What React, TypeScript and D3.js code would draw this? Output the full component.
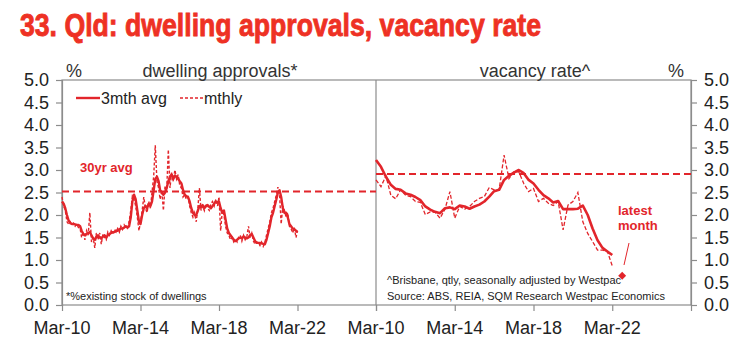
import { useEffect, useRef } from 'react';
import * as d3 from 'd3';

// dwelling approvals, % of existing stock, monthly from Mar-10 to Mar-22
const approvalsMthly = [
  2.40, 2.20, 2.10, 1.85, 1.80, 1.85, 1.78, 1.82, 1.75, 1.80,
  1.72, 1.70, 1.50, 1.62, 1.45, 1.65, 1.55, 2.05, 1.40, 1.50, 1.27, 1.60,
  1.45, 1.60, 1.35, 1.58, 1.50, 1.45, 1.62, 1.55, 1.65, 1.58, 1.68, 1.62,
  1.70, 1.62, 1.75, 1.68, 1.78, 1.72, 1.70, 1.85, 2.10, 2.42, 2.35, 2.20,
  1.95, 1.65, 1.85, 2.10, 2.40, 2.15, 2.05, 2.30, 2.15, 2.50, 2.85, 3.55,
  2.75, 2.60, 2.35, 2.55, 2.10, 2.65, 2.55, 3.45, 2.60, 2.95, 2.75, 3.00,
  2.80, 2.90, 2.65, 2.60, 2.40, 2.45, 2.35, 2.40, 2.20, 2.05, 1.95, 2.05,
  1.85, 2.15, 2.60, 2.10, 2.20, 2.10, 2.25, 2.15, 2.10, 2.25, 2.30, 2.20,
  2.35, 2.20, 2.40, 1.65, 2.10, 2.00, 1.75, 1.60, 1.55, 1.45, 1.50, 1.40,
  1.45, 1.40, 1.50, 1.55, 1.42, 1.55, 1.45, 1.52, 1.75, 1.50, 1.60, 1.42,
  1.35, 1.40, 1.38, 1.32, 1.40, 1.30, 1.38, 1.55, 1.70, 1.85, 2.05, 2.15,
  2.30, 2.45, 2.62, 2.45, 1.80, 2.20, 2.10, 1.95, 2.05, 1.75, 1.70, 1.60,
  1.72, 1.50, 1.65,
];

const approvals3m = [
  2.30, 2.25, 2.15, 2.00, 1.88, 1.82, 1.80, 1.80, 1.79, 1.78,
  1.78, 1.75, 1.65, 1.58, 1.55, 1.58, 1.60, 1.62, 1.55, 1.48, 1.45, 1.52,
  1.55, 1.50, 1.48, 1.52, 1.55, 1.50, 1.55, 1.58, 1.60, 1.62, 1.62, 1.65,
  1.65, 1.68, 1.70, 1.70, 1.72, 1.75, 1.72, 1.75, 1.95, 2.30, 2.45, 2.35,
  2.10, 1.85, 1.80, 2.00, 2.15, 2.20, 2.15, 2.25, 2.20, 2.30, 2.55, 2.80,
  2.85, 2.75, 2.55, 2.50, 2.45, 2.50, 2.60, 2.75, 2.85, 2.90, 2.80, 2.88,
  2.85, 2.80, 2.75, 2.70, 2.55, 2.45, 2.42, 2.40, 2.30, 2.15, 2.05, 2.00,
  2.00, 2.10, 2.20, 2.18, 2.22, 2.15, 2.20, 2.22, 2.18, 2.15, 2.20, 2.25,
  2.30, 2.28, 2.30, 2.15, 2.05, 2.10, 1.90, 1.70, 1.60, 1.55, 1.50, 1.45,
  1.42, 1.45, 1.48, 1.50, 1.48, 1.52, 1.50, 1.48, 1.50, 1.55, 1.58, 1.50,
  1.42, 1.38, 1.38, 1.38, 1.37, 1.36, 1.35, 1.45, 1.60, 1.75, 1.95, 2.05,
  2.20, 2.35, 2.50, 2.55, 2.40, 2.15, 2.05, 2.05, 1.95, 1.80, 1.75, 1.70,
  1.68, 1.65, 1.62,
];

// Brisbane vacancy rate, quarterly from Mar-10 to Mar-22
const vacancyQtly = [
  2.78, 2.63, 2.87, 2.44, 2.36, 2.56, 2.44, 2.41, 2.30, 2.28,
  2.01, 2.07, 2.06, 1.93, 2.13, 2.52, 1.93, 2.19, 2.13, 2.19,
  2.30, 2.37, 2.41, 2.61, 2.56, 2.56, 3.33, 2.81, 2.96, 2.96,
  2.70, 2.52, 2.59, 2.30, 2.37, 2.26, 2.21, 2.30, 1.67, 2.22,
  2.30, 2.50, 1.85, 1.59, 1.41, 1.22, 1.22, 1.19, 0.87,
];

const vacancySmooth = [
  3.22, 3.07, 2.85, 2.67, 2.58, 2.56, 2.48, 2.45, 2.40, 2.33,
  2.19, 2.12, 2.07, 2.04, 2.15, 2.17, 2.13, 2.21, 2.19, 2.14,
  2.19, 2.23, 2.30, 2.41, 2.53, 2.56, 2.78, 2.87, 2.94, 3.00,
  2.93, 2.78, 2.70, 2.56, 2.44, 2.37, 2.28, 2.31, 2.13, 2.13,
  2.13, 2.14, 2.21, 2.00, 1.70, 1.44, 1.27, 1.19, 1.11,
];

const latestMonth = { date: new Date(2022, 8, 1), value: 0.65 };
const approvalsAvg = 2.52;
const vacancyAvg = 2.91;

const yTicks = [0, 0.5, 1, 1.5, 2, 2.5, 3, 3.5, 4, 4.5, 5];
const xTickDates = [2010, 2014, 2018, 2022, 2026].map(y => new Date(y, 2, 1));
const xTickLabels = ['Mar-10', 'Mar-14', 'Mar-18', 'Mar-22'];

const RED = '#e2252b';
const GREY = '#8c8c8c';
const TEXT = '#222';
const FONT = 'Liberation Sans, Arial, sans-serif';

export default function App() {
  const svgRef = useRef<SVGSVGElement>(null);

  useEffect(() => {
    if (!svgRef.current) return;
    const svg = d3.select(svgRef.current);
    svg.selectAll('*').remove();

    const top = 80, bottom = 305;
    const leftX = [62, 376];
    const rightX = [376, 691];

    const start = new Date(2010, 2, 1);
    const end = new Date(2026, 2, 1);
    const xL = d3.scaleTime().domain([start, end]).range(leftX);
    const xR = d3.scaleTime().domain([start, end]).range(rightX);
    const y = d3.scaleLinear().domain([0, 5]).range([bottom, top]);

    const monthly = (i: number) => d3.timeMonth.offset(start, i);
    const quarterly = (i: number) => d3.timeMonth.offset(start, i * 3);

    svg.append('rect').attr('width', 745).attr('height', 352).attr('fill', '#fff');

    // title
    svg.append('text')
      .attr('x', 20).attr('y', 36)
      .attr('textLength', 521).attr('lengthAdjust', 'spacingAndGlyphs')
      .attr('font-family', 'Liberation Sans Narrow, Arial Narrow, sans-serif')
      .attr('font-weight', 700).attr('font-size', 32)
      .attr('fill', '#ee3124').attr('stroke', '#ee3124').attr('stroke-width', 0.9)
      .text('33. Qld: dwelling approvals, vacancy rate');

    // frame
    svg.append('rect')
      .attr('x', leftX[0]).attr('y', top)
      .attr('width', rightX[1] - leftX[0]).attr('height', bottom - top)
      .attr('fill', 'none').attr('stroke', GREY).attr('stroke-width', 1.2);
    svg.append('line')
      .attr('x1', 376).attr('x2', 376).attr('y1', top).attr('y2', bottom)
      .attr('stroke', GREY).attr('stroke-width', 1.2);

    // y axes
    const yl = svg.append('g').attr('transform', `translate(${leftX[0]},0)`)
      .call(d3.axisLeft(y).tickValues(yTicks).tickSize(6).tickPadding(7).tickFormat(d3.format('.1f')));
    const yr = svg.append('g').attr('transform', `translate(${rightX[1]},0)`)
      .call(d3.axisRight(y).tickValues(yTicks).tickSize(6).tickPadding(7).tickFormat(d3.format('.1f')));
    [yl, yr].forEach(g => {
      g.select('.domain').attr('stroke', GREY).attr('stroke-width', 1.2);
      g.selectAll('.tick line').attr('stroke', GREY).attr('stroke-width', 1.2);
      g.selectAll('.tick text').attr('font-family', FONT).attr('font-size', 18).attr('fill', TEXT);
    });

    // x axes
    [xL, xR].forEach(x => {
      const g = svg.append('g').attr('transform', `translate(0,${bottom})`)
        .call(d3.axisBottom(x).tickValues(xTickDates).tickSize(6).tickFormat(() => ''));
      g.select('.domain').remove();
      g.selectAll('.tick line').attr('stroke', GREY).attr('stroke-width', 1.2);
      svg.selectAll(null)
        .data(xTickLabels)
        .enter()
        .append('text')
        .attr('x', (_d, i) => x(xTickDates[i]))
        .attr('y', 334)
        .attr('text-anchor', 'middle')
        .attr('font-family', FONT).attr('font-size', 18).attr('fill', TEXT)
        .text(d => d);
    });

    // headers
    const header = (x: number, txt: string, anchor = 'middle') =>
      svg.append('text').attr('x', x).attr('y', 77).attr('text-anchor', anchor)
        .attr('font-family', FONT).attr('font-size', 18).attr('fill', '#333').text(txt);
    header(66, '%', 'start');
    header(220, 'dwelling approvals*');
    header(535, 'vacancy rate^');
    header(684, '%', 'end');

    // average lines
    svg.append('line')
      .attr('x1', leftX[0]).attr('x2', leftX[1])
      .attr('y1', y(approvalsAvg)).attr('y2', y(approvalsAvg))
      .attr('stroke', RED).attr('stroke-width', 2).attr('stroke-dasharray', '7,4');
    svg.append('line')
      .attr('x1', rightX[0]).attr('x2', rightX[1])
      .attr('y1', y(vacancyAvg)).attr('y2', y(vacancyAvg))
      .attr('stroke', RED).attr('stroke-width', 2).attr('stroke-dasharray', '7,4');

    // approvals lines
    const lineL = d3.line<number>().x((_d, i) => xL(monthly(i))).y(d => y(d));
    svg.append('path').attr('d', lineL(approvalsMthly))
      .attr('fill', 'none').attr('stroke', RED).attr('stroke-width', 1.4)
      .attr('stroke-dasharray', '3,2');
    svg.append('path').attr('d', lineL(approvals3m))
      .attr('fill', 'none').attr('stroke', RED).attr('stroke-width', 2.4)
      .attr('stroke-linejoin', 'round');

    // vacancy lines
    const lineR = d3.line<number>().x((_d, i) => xR(quarterly(i))).y(d => y(d));
    svg.append('path').attr('d', lineR(vacancyQtly))
      .attr('fill', 'none').attr('stroke', RED).attr('stroke-width', 1.3)
      .attr('stroke-dasharray', '4,2');
    svg.append('path').attr('d', lineR(vacancySmooth))
      .attr('fill', 'none').attr('stroke', RED).attr('stroke-width', 2.6)
      .attr('stroke-linejoin', 'round');

    // latest month marker
    svg.append('path')
      .attr('d', d3.symbol(d3.symbolDiamond2, 40)())
      .attr('transform', `translate(${xR(latestMonth.date)},${y(latestMonth.value)})`)
      .attr('fill', RED);
    svg.append('line')
      .attr('x1', 629).attr('y1', 243).attr('x2', 624).attr('y2', 265)
      .attr('stroke', RED).attr('stroke-width', 1);
    ['latest', 'month'].forEach((t, i) =>
      svg.append('text').attr('x', 618).attr('y', 215 + i * 15)
        .attr('font-family', FONT).attr('font-size', 13).attr('font-weight', 700)
        .attr('fill', RED).text(t));

    // legend
    svg.append('line').attr('x1', 76).attr('x2', 100).attr('y1', 98).attr('y2', 98)
      .attr('stroke', RED).attr('stroke-width', 2.4);
    svg.append('text').attr('x', 101).attr('y', 103.5)
      .attr('font-family', FONT).attr('font-size', 16).attr('fill', TEXT).text('3mth avg');
    svg.append('line').attr('x1', 180).attr('x2', 204).attr('y1', 98).attr('y2', 98)
      .attr('stroke', RED).attr('stroke-width', 1.4).attr('stroke-dasharray', '3,2');
    svg.append('text').attr('x', 204).attr('y', 103.5)
      .attr('font-family', FONT).attr('font-size', 16).attr('fill', TEXT).text('mthly');

    // annotations
    svg.append('text').attr('x', 80).attr('y', 172)
      .attr('font-family', FONT).attr('font-size', 13).attr('font-weight', 700)
      .attr('fill', RED).text('30yr avg');
    svg.append('text').attr('x', 66).attr('y', 300)
      .attr('font-family', FONT).attr('font-size', 11).attr('fill', TEXT)
      .text('*%existing stock of dwellings');
    svg.append('text').attr('x', 387).attr('y', 284)
      .attr('font-family', FONT).attr('font-size', 11).attr('fill', TEXT)
      .text('^Brisbane, qtly, seasonally adjusted by Westpac');
    svg.append('text').attr('x', 387).attr('y', 300)
      .attr('font-family', FONT).attr('font-size', 11).attr('fill', TEXT)
      .text('Source: ABS, REIA, SQM Research Westpac Economics');
  }, []);

  return (
    <svg
      ref={svgRef}
      width={745}
      height={352}
      style={{ position: 'absolute', left: 0, top: 0 }}
    />
  );
}
